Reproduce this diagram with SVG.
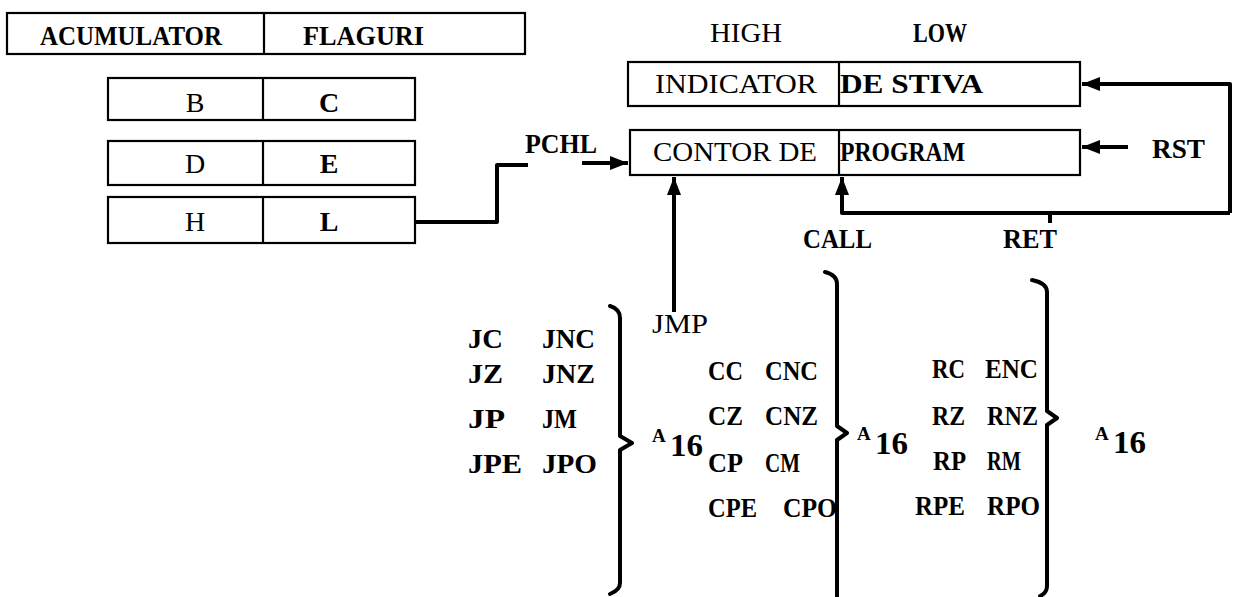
<svg xmlns="http://www.w3.org/2000/svg" width="1233" height="597" viewBox="0 0 1233 597">
<style>
.t{font-family:"Liberation Serif","DejaVu Serif",serif;font-size:28px;fill:#000}
.b{font-weight:bold}
.box{fill:#fff;stroke:#000;stroke-width:2.2}
.div{stroke:#000;stroke-width:2.2}
.c{fill:none;stroke:#000;stroke-width:4;stroke-linejoin:round}
.br{fill:none;stroke:#000;stroke-width:4;stroke-linejoin:round;stroke-linecap:round}
.a{font-size:19px;font-weight:bold}
.n{font-size:31px;font-weight:bold}
</style>
<defs>
<marker id="ah" markerUnits="userSpaceOnUse" markerWidth="20" markerHeight="16" refX="18" refY="8" orient="auto">
<path d="M0,1 L18,8 L0,15 Z" fill="#000"/>
</marker>
</defs>
<rect width="1233" height="597" fill="#fff"/>
<g id="acc">
<rect class="box" x="7" y="13" width="518" height="41"/>
<line class="div" x1="264" y1="13" x2="264" y2="54"/>
<text class="t b" x="40" y="45" textLength="182" lengthAdjust="spacingAndGlyphs">ACUMULATOR</text>
<text class="t b" x="303" y="45" textLength="121" lengthAdjust="spacingAndGlyphs">FLAGURI</text>
</g>
<g id="bc">
<rect class="box" x="108" y="78" width="307" height="42"/>
<line class="div" x1="263" y1="78" x2="263" y2="120"/>
<text class="t" x="195" y="112" text-anchor="middle">B</text>
<text class="t b" x="329" y="112" text-anchor="middle">C</text>
</g>
<g id="de">
<rect class="box" x="108" y="141" width="307" height="44"/>
<line class="div" x1="263" y1="141" x2="263" y2="185"/>
<text class="t" x="195" y="173" text-anchor="middle">D</text>
<text class="t b" x="329" y="173" text-anchor="middle">E</text>
</g>
<g id="hl">
<rect class="box" x="108" y="197" width="307" height="46"/>
<line class="div" x1="263" y1="197" x2="263" y2="243"/>
<text class="t" x="195" y="231" text-anchor="middle">H</text>
<text class="t b" x="329" y="231" text-anchor="middle">L</text>
</g>
<g id="sp">
<rect class="box" x="628" y="62" width="452" height="44"/>
<line class="div" x1="839" y1="62" x2="839" y2="106"/>
<text class="t" x="655" y="93" textLength="162" lengthAdjust="spacingAndGlyphs">INDICATOR</text>
<text class="t b" x="840" y="93" textLength="143" lengthAdjust="spacingAndGlyphs">DE STIVA</text>
</g>
<g id="pc">
<rect class="box" x="630" y="130" width="450" height="45"/>
<line class="div" x1="839" y1="130" x2="839" y2="175"/>
<text class="t" x="653" y="161" textLength="164" lengthAdjust="spacingAndGlyphs">CONTOR DE</text>
<text class="t b" x="840" y="161" textLength="125" lengthAdjust="spacingAndGlyphs">PROGRAM</text>
</g>
<g id="labels">
<text class="t" x="710" y="42" textLength="72" lengthAdjust="spacingAndGlyphs">HIGH</text>
<text class="t b" x="913" y="42" textLength="54" lengthAdjust="spacingAndGlyphs">LOW</text>
<text class="t b" x="525" y="153" textLength="72" lengthAdjust="spacingAndGlyphs">PCHL</text>
<text class="t b" x="1152" y="158" textLength="53" lengthAdjust="spacingAndGlyphs">RST</text>
<text class="t b" x="803" y="248" textLength="69" lengthAdjust="spacingAndGlyphs">CALL</text>
<text class="t b" x="1003" y="248" textLength="54" lengthAdjust="spacingAndGlyphs">RET</text>
<text class="t" x="652" y="333" textLength="56" lengthAdjust="spacingAndGlyphs">JMP</text>
</g>
<g id="jumps">
<text class="t b" x="468" y="348" textLength="35" lengthAdjust="spacingAndGlyphs">JC</text><text class="t b" x="542" y="348" textLength="53" lengthAdjust="spacingAndGlyphs">JNC</text>
<text class="t b" x="468" y="383" textLength="35" lengthAdjust="spacingAndGlyphs">JZ</text><text class="t b" x="542" y="383" textLength="53" lengthAdjust="spacingAndGlyphs">JNZ</text>
<text class="t b" x="468" y="428" textLength="37" lengthAdjust="spacingAndGlyphs">JP</text><text class="t b" x="542" y="428" textLength="35" lengthAdjust="spacingAndGlyphs">JM</text>
<text class="t b" x="468" y="473" textLength="54" lengthAdjust="spacingAndGlyphs">JPE</text><text class="t b" x="542" y="473" textLength="55" lengthAdjust="spacingAndGlyphs">JPO</text>
<text class="t a" x="652" y="442">A</text><text class="t n" x="670" y="456" textLength="33" lengthAdjust="spacingAndGlyphs">16</text>
</g>
<g id="calls">
<text class="t b" x="708" y="380" textLength="35" lengthAdjust="spacingAndGlyphs">CC</text><text class="t b" x="765" y="380" textLength="53" lengthAdjust="spacingAndGlyphs">CNC</text>
<text class="t b" x="708" y="425" textLength="35" lengthAdjust="spacingAndGlyphs">CZ</text><text class="t b" x="765" y="425" textLength="53" lengthAdjust="spacingAndGlyphs">CNZ</text>
<text class="t b" x="708" y="472" textLength="35" lengthAdjust="spacingAndGlyphs">CP</text><text class="t b" x="765" y="472" textLength="35" lengthAdjust="spacingAndGlyphs">CM</text>
<text class="t b" x="708" y="517" textLength="49" lengthAdjust="spacingAndGlyphs">CPE</text><text class="t b" x="783" y="517" textLength="54" lengthAdjust="spacingAndGlyphs">CPO</text>
<text class="t a" x="857" y="440">A</text><text class="t n" x="875" y="454" textLength="33" lengthAdjust="spacingAndGlyphs">16</text>
</g>
<g id="rets">
<text class="t b" x="932" y="378" textLength="33" lengthAdjust="spacingAndGlyphs">RC</text><text class="t b" x="985" y="378" textLength="53" lengthAdjust="spacingAndGlyphs">ENC</text>
<text class="t b" x="932" y="425" textLength="33" lengthAdjust="spacingAndGlyphs">RZ</text><text class="t b" x="987" y="425" textLength="51" lengthAdjust="spacingAndGlyphs">RNZ</text>
<text class="t b" x="933" y="470" textLength="33" lengthAdjust="spacingAndGlyphs">RP</text><text class="t b" x="987" y="470" textLength="34" lengthAdjust="spacingAndGlyphs">RM</text>
<text class="t b" x="915" y="515" textLength="50" lengthAdjust="spacingAndGlyphs">RPE</text><text class="t b" x="987" y="515" textLength="53" lengthAdjust="spacingAndGlyphs">RPO</text>
<text class="t a" x="1095" y="440">A</text><text class="t n" x="1113" y="453" textLength="33" lengthAdjust="spacingAndGlyphs">16</text>
</g>
<g id="braces">
<path class="br" d="M610,306 Q620,309 620,318 L620,436 L632,443 L620,450 L620,583 Q620,590 610,594"/>
<path class="br" d="M825,272 Q837,275 837,284 L837,426 L847,433 L837,440 L837,597"/>
<path class="br" d="M1032,280 Q1047,283 1047,292 L1047,411 L1057,418 L1047,425 L1047,586 Q1047,593 1040,596"/>
</g>
<g id="connectors">
<path class="c" d="M415,222 L497,222 L497,165 L528,165"/>
<path class="c" d="M582,163 L628,163" marker-end="url(#ah)"/>
<path class="c" d="M674,312 L674,177" stroke-width="3.5" marker-end="url(#ah)"/>
<path class="c" d="M1230,213 L1230,84 L1082,84" marker-end="url(#ah)"/>
<path class="c" d="M1230,213 L842,213 L842,177" marker-end="url(#ah)"/>
<path class="c" d="M1050,213 L1050,223"/>
<path class="c" d="M1128,147 L1082,147" marker-end="url(#ah)"/>
</g>
</svg>
